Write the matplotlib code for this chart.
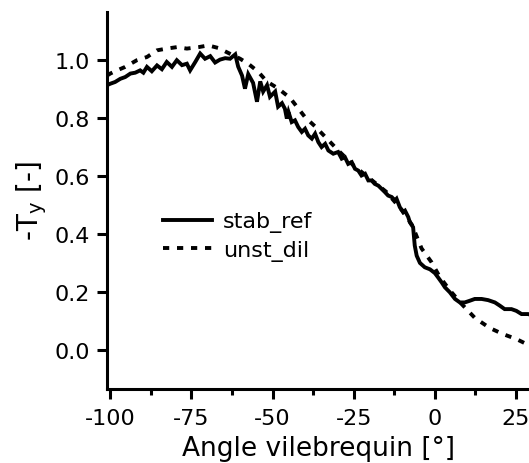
import numpy as np
import matplotlib
matplotlib.use("Agg")
import matplotlib.pyplot as plt
from matplotlib.ticker import MultipleLocator

plt.rcParams['font.family'] = ['DejaVu Sans']
plt.rcParams['axes.unicode_minus'] = False   # tiret court comme sur la figure

# =============================================================================
# Données
# =============================================================================
angle_stab = [-101, -100, -98.5, -96.9, -95.4, -93.8, -92.3, -90.8, -89.8, -88.7,
              -87.2, -85.6, -84.1, -82.6, -81.0, -79.5, -77.9, -76.4, -75.4, -73.8,
              -72.3, -70.8, -69.2, -67.7, -66.2, -64.6, -63.1, -61.5, -60.6, -59.4,
              -58.5, -57.5, -56.0, -54.8, -53.8, -52.9, -51.7, -50.8, -49.2, -48.3,
              -47.1, -46.2, -45.6, -45.1, -44.1, -43.1, -42.1, -41.0, -40.0, -39.0,
              -37.9, -36.9, -35.9, -34.9, -33.8, -32.8, -31.3, -29.8, -28.7, -27.7,
              -26.7, -25.6, -24.6, -23.6, -22.6, -21.5, -20.5, -19.5, -18.5, -17.4,
              -16.4, -15.4, -14.4, -13.3, -12.3, -11.8, -10.8, -9.8, -9.2, -8.2,
              -7.7, -6.7, -6.2, -5.6, -4.6, -3.1, -1.5, 0.0, 1.0, 2.1,
              3.1, 4.6, 6.2, 7.7, 9.2, 10.8, 12.3, 14.4, 16.4, 18.5,
              20.0, 21.5, 23.6, 25.1, 26.7, 28.7, 30.0]
stab_ref = [0.912, 0.917, 0.923, 0.934, 0.940, 0.952, 0.955, 0.963, 0.955, 0.975,
            0.960, 0.980, 0.967, 0.992, 0.975, 0.998, 0.981, 0.986, 0.963, 0.992,
            1.021, 1.003, 1.012, 0.990, 1.000, 1.005, 1.003, 1.018, 0.976, 0.945,
            0.900, 0.950, 0.920, 0.855, 0.925, 0.890, 0.912, 0.872, 0.890, 0.838,
            0.850, 0.831, 0.797, 0.820, 0.785, 0.791, 0.768, 0.751, 0.762, 0.739,
            0.728, 0.745, 0.716, 0.699, 0.710, 0.687, 0.676, 0.682, 0.659, 0.664,
            0.641, 0.647, 0.624, 0.618, 0.601, 0.607, 0.584, 0.584, 0.572, 0.566,
            0.555, 0.544, 0.532, 0.527, 0.515, 0.521, 0.492, 0.475, 0.480, 0.458,
            0.440, 0.423, 0.360, 0.325, 0.300, 0.285, 0.278, 0.265, 0.250, 0.233,
            0.216, 0.199, 0.176, 0.164, 0.164, 0.170, 0.176, 0.176, 0.172, 0.164,
            0.153, 0.141, 0.141, 0.135, 0.124, 0.124, 0.120]

angle_unst = [-101, -100, -98.5, -95.4, -91.8, -88.7, -85.6, -82.6, -79.5, -76.4,
              -72.8, -69.8, -66.7, -63.1, -60.0, -57.4, -54.4, -51.8, -48.2, -44.6,
              -40.0, -36.9, -33.0, -30.0, -25.0, -20.0, -15.0, -10.0, -7.0, -4.1,
              -1.0, 1.5, 4.6, 8.2, 12.3, 16.9, 21.0, 25.1, 28.2, 30.0]
unst_dil = [0.945, 0.952, 0.960, 0.975, 0.998, 1.009, 1.032, 1.038, 1.043, 1.038,
            1.043, 1.049, 1.040, 1.020, 1.003, 0.985, 0.958, 0.925, 0.900, 0.868,
            0.802, 0.770, 0.725, 0.690, 0.635, 0.590, 0.545, 0.480, 0.430, 0.350,
            0.302, 0.252, 0.206, 0.159, 0.111, 0.076, 0.055, 0.038, 0.021, 0.012]

xticks = [-100, -75, -50, -25, 0, 25]
yticks = [0.0, 0.2, 0.4, 0.6, 0.8, 1.0]

# =============================================================================
# Figure
# =============================================================================
fig = plt.figure(figsize=(5.29, 4.64), dpi=100)
ax = fig.add_axes([0.2023, 0.1595, 0.7977, 0.8125])

ax.plot(angle_stab, stab_ref, color='black', lw=2.8, label='stab_ref',
        solid_joinstyle='miter')
ax.plot(angle_unst, unst_dil, color='black', lw=2.8, label='unst_dil',
        dashes=(1.6, 2.0))

ax.set_xlim(-101, 29)
ax.set_ylim(-0.134, 1.164)
ax.set_xticks(xticks)
ax.set_yticks(yticks)
ax.set_yticklabels(['%.1f' % v for v in yticks])
ax.xaxis.set_minor_locator(MultipleLocator(12.5))

for s in ['top', 'right']:
    ax.spines[s].set_visible(False)
for s in ['left', 'bottom']:
    ax.spines[s].set_linewidth(2.2)

ax.tick_params(which='major', direction='out', length=7, width=2.2,
               labelsize=16, pad=5)
ax.tick_params(axis='x', which='minor', direction='out', length=4, width=2.2)
ax.tick_params(axis='x', which='major', pad=7)

ax.set_xlabel('Angle vilebrequin [°]', fontsize=19, labelpad=5)
ax.set_ylabel('-T$_\\mathregular{y}$ [-]', fontsize=20, labelpad=4)

ax.legend(loc='center left', bbox_to_anchor=(0.1327, 0.405), frameon=False,
          fontsize=16, handlelength=2.2, handletextpad=0.5, labelspacing=0.35,
          borderaxespad=0, borderpad=0)

fig.savefig('out.png', dpi=100)
